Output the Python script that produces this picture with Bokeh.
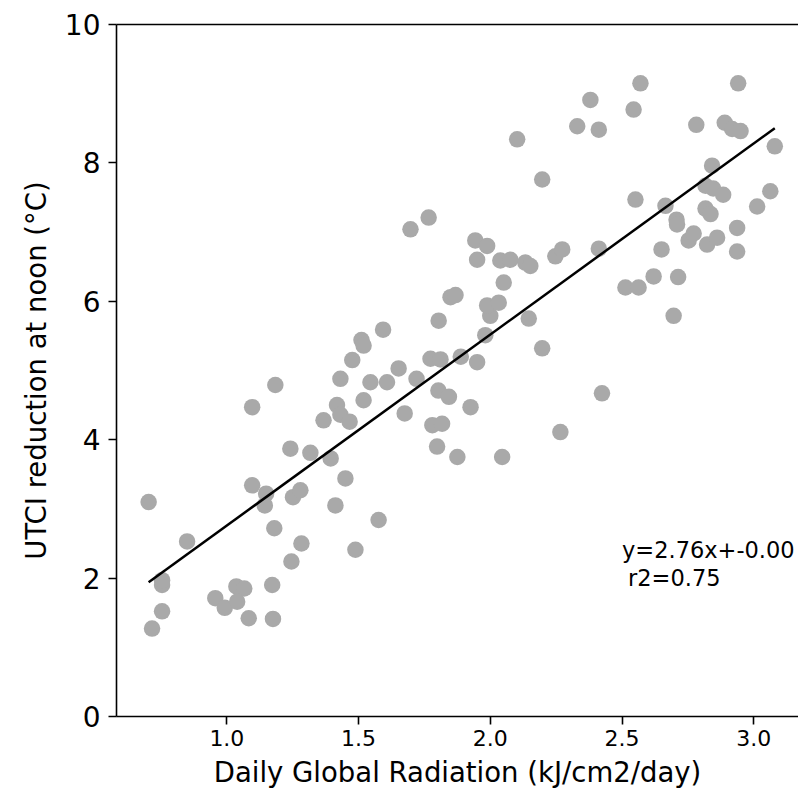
from bokeh.plotting import figure
from bokeh.models import Range1d, LinearAxis, FixedTicker, Label, ColumnDataSource
from bokeh.embed import file_html
from bokeh.resources import INLINE

# Daily global radiation (kJ/cm2/day)
radiation = [
    0.703, 0.716, 0.754, 0.754, 0.754, 0.849, 0.956, 0.992, 1.036, 1.066,
    1.039, 1.083, 1.096, 1.096, 1.149, 1.144, 1.172, 1.175, 1.180, 1.184,
    1.241, 1.245, 1.251, 1.279, 1.283, 1.317, 1.367, 1.394, 1.412, 1.418,
    1.431, 1.431, 1.466, 1.450, 1.488, 1.519, 1.511, 1.519, 1.476, 1.545,
    1.576, 1.593, 1.608, 1.652, 1.675, 1.697, 1.766, 1.720, 1.773, 1.811,
    1.804, 1.803, 1.843, 1.780, 1.817, 1.798, 1.875, 1.849, 1.868, 1.888,
    1.925, 1.950, 1.943, 1.988, 1.950, 2.038, 2.076, 2.133, 2.152, 2.051,
    1.981, 2.000, 1.988, 2.032, 2.045, 2.102, 2.146, 2.197, 2.197, 2.247,
    2.273, 2.266, 2.330, 2.380, 2.412, 2.412, 2.424, 2.513, 2.563, 2.620,
    2.544, 2.570, 2.551, 2.650, 2.665, 2.707, 2.709, 2.713, 2.696, 2.753,
    2.772, 2.782, 2.842, 2.817, 2.846, 2.884, 2.817, 2.836, 2.823, 2.861,
    2.890, 2.918, 2.950, 2.941, 2.937, 2.937, 3.013, 3.063, 3.080,
]
# UTCI reduction at noon (°C)
utci_reduction = [
    3.10, 1.27, 1.52, 1.90, 1.97, 2.53, 1.71, 1.57, 1.88, 1.85,
    1.66, 1.42, 4.47, 3.34, 3.22, 3.05, 1.90, 1.41, 2.72, 4.79,
    3.87, 2.24, 3.17, 3.27, 2.50, 3.81, 4.28, 3.73, 3.05, 4.50,
    4.88, 4.36, 4.26, 3.44, 2.41, 4.57, 5.44, 5.36, 5.15, 4.83,
    2.84, 5.59, 4.83, 5.03, 4.38, 7.04, 7.21, 4.88, 5.17, 5.16,
    5.72, 4.71, 4.62, 4.21, 4.23, 3.90, 3.75, 6.06, 6.09, 5.20,
    4.47, 5.12, 6.88, 6.80, 6.60, 6.59, 6.60, 6.56, 6.51, 6.27,
    5.51, 5.79, 5.94, 5.98, 3.75, 8.34, 5.75, 7.76, 5.32, 6.65,
    6.75, 4.11, 8.53, 8.91, 8.48, 6.76, 4.67, 6.20, 6.20, 6.36,
    8.77, 9.15, 7.47, 6.75, 7.38, 7.18, 7.11, 6.35, 5.79, 6.88,
    6.98, 8.55, 7.96, 7.67, 7.63, 7.54, 7.34, 7.26, 6.82, 6.92,
    8.58, 8.49, 8.46, 9.15, 7.06, 6.72, 7.37, 7.59, 8.24,
]
# linear fit as annotated
slope = 2.76
intercept = -0.00
r2 = 0.75

x_ticks = [1.0, 1.5, 2.0, 2.5, 3.0]
y_ticks = [0, 2, 4, 6, 8, 10]

FONT = "DejaVu Sans"

p = figure(
    width=798, height=792,
    x_range=Range1d(0.581, 3.170), y_range=Range1d(0, 10),
    output_backend="svg", toolbar_location=None,
    x_axis_location=None, y_axis_location=None,
    min_border_left=116, min_border_right=0,
    min_border_top=24, min_border_bottom=76,
)
p.grid.visible = False
p.outline_line_color = None
p.background_fill_color = "white"
p.border_fill_color = "white"

xaxis = LinearAxis(ticker=FixedTicker(ticks=x_ticks))
xaxis.major_label_overrides = {t: f"{t:.1f}" for t in x_ticks}
xaxis.axis_label = "Daily Global Radiation (kJ/cm2/day)"
yaxis = LinearAxis(ticker=FixedTicker(ticks=y_ticks))
yaxis.axis_label = "UTCI reduction at noon (°C)"

for ax, tsize in ((xaxis, "22px"), (yaxis, "28px")):
    ax.axis_line_color = "black"
    ax.axis_line_width = 1.6
    ax.major_tick_line_color = "black"
    ax.major_tick_line_width = 1.6
    ax.major_tick_out = 8
    ax.major_tick_in = 0
    ax.minor_tick_out = 0
    ax.minor_tick_in = 0
    ax.major_label_text_font = FONT
    ax.major_label_text_font_size = tsize
    ax.major_label_text_color = "black"
    ax.axis_label_text_font = FONT
    ax.axis_label_text_font_size = "27.5px"
    ax.axis_label_text_font_style = "normal"
    ax.axis_label_text_color = "black"

xaxis.major_label_standoff = 5
xaxis.axis_label_standoff = 7
yaxis.major_label_standoff = 8
yaxis.axis_label_standoff = 10

top_axis = LinearAxis(ticker=FixedTicker(ticks=[]))
top_axis.axis_line_color = "black"
top_axis.axis_line_width = 1.6
top_axis.major_tick_out = 0
top_axis.major_tick_in = 0
top_axis.minor_tick_out = 0
top_axis.minor_tick_in = 0
top_axis.major_label_text_font_size = "0px"

p.add_layout(xaxis, "below")
p.add_layout(yaxis, "left")
p.add_layout(top_axis, "above")

src = ColumnDataSource(data=dict(x=radiation, y=utci_reduction))
p.scatter("x", "y", source=src, size=16.5, fill_color="#a9a9a9", line_color=None)

x_lo, x_hi = min(radiation), max(radiation)
p.line([x_lo, x_hi], [slope * x_lo + intercept, slope * x_hi + intercept],
       line_color="black", line_width=2.5)

p.add_layout(Label(x=2.5, y=2.0, y_offset=28, text=f"y={slope:.2f}x+{intercept:.2f}",
                   text_font=FONT, text_font_size="22.5px", text_color="black",
                   text_baseline="alphabetic"))
p.add_layout(Label(x=2.5, y=2.0, x_offset=6, text=f" r2={r2:.2f}",
                   text_font=FONT, text_font_size="22.5px", text_color="black",
                   text_baseline="alphabetic"))

open("out.html", "w").write(file_html(p, INLINE))
